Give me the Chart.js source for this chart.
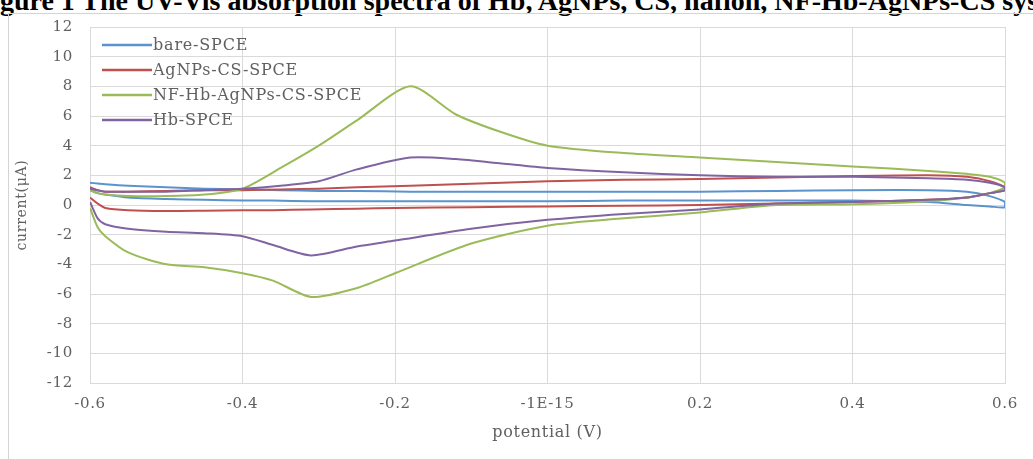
<!DOCTYPE html>
<html>
<head>
<meta charset="utf-8">
<script src="https://cdn.jsdelivr.net/npm/chart.js@4/dist/chart.umd.min.js"></script>
<style>
  html, body { margin: 0; padding: 0; background: #fff; }
  #wrap { position: relative; width: 1033px; height: 459px; overflow: hidden; background: #fff; }
  #caption {
    position: absolute; left: -25px; top: -13px; white-space: nowrap;
    font: bold 28px/28px "Liberation Serif", serif; color: #000;
  }
  #frame {
    position: absolute; left: 8px; top: 13px; width: 1100px; height: 500px;
    border-left: 1px solid #d4d4d4; border-top: 1px solid #d4d4d4;
  }
  #cv { position: absolute; left: 0; top: 0; }
</style>
</head>
<body>
<div id="wrap">
  <div id="caption">Figure 1 The UV-Vis absorption spectra of Hb, AgNPs, CS, nafion, NF-Hb-AgNPs-CS system</div>
  <div id="frame"></div>
  <canvas id="cv" width="1033" height="459"></canvas>
</div>
<script>
// potential sweeps (V): forward scan then reverse scan
const forwardV = [-0.6, -0.59, -0.58, -0.55, -0.5, -0.45, -0.4, -0.35, -0.3, -0.25, -0.18, -0.12, -0.06, 0, 0.1, 0.2, 0.3, 0.4, 0.5, 0.55, 0.58, 0.6];
const reverseV = [0.6, 0.58, 0.55, 0.5, 0.4, 0.3, 0.2, 0.1, 0, -0.1, -0.2, -0.25, -0.31, -0.36, -0.4, -0.45, -0.5, -0.55, -0.58, -0.59, -0.6];

// current (uA) on each sweep
const bareFwd = [1.5, 1.45, 1.4, 1.3, 1.2, 1.1, 1.05, 1.0, 0.95, 0.95, 0.9, 0.9, 0.9, 0.9, 0.9, 0.9, 0.95, 1.0, 1.0, 0.9, 0.6, 0.2];
const bareRev = [-0.15, -0.1, 0.0, 0.2, 0.3, 0.3, 0.3, 0.3, 0.25, 0.25, 0.25, 0.25, 0.25, 0.3, 0.3, 0.35, 0.4, 0.5, 0.7, 0.8, 1.0];
const agFwd = [1.2, 1.0, 0.9, 0.9, 0.95, 1.0, 1.0, 1.05, 1.1, 1.2, 1.3, 1.4, 1.5, 1.6, 1.7, 1.75, 1.85, 1.95, 2.0, 1.9, 1.6, 1.2];
const agRev = [1.0, 0.8, 0.5, 0.35, 0.2, 0.1, 0.0, -0.05, -0.1, -0.15, -0.2, -0.25, -0.3, -0.35, -0.35, -0.38, -0.4, -0.35, -0.2, 0.1, 0.5];
const nfFwd = [1.0, 0.8, 0.7, 0.6, 0.6, 0.7, 1.1, 2.5, 4.0, 5.7, 8.0, 6.1, 4.9, 4.0, 3.5, 3.2, 2.9, 2.6, 2.3, 2.1, 1.9, 1.5];
const nfRev = [1.2, 0.8, 0.5, 0.25, 0.05, 0.0, -0.5, -0.9, -1.4, -2.6, -4.6, -5.6, -6.2, -5.1, -4.6, -4.2, -4.0, -3.2, -2.1, -1.5, -0.2];
const hbFwd = [1.1, 1.0, 0.9, 0.9, 0.9, 1.0, 1.1, 1.3, 1.6, 2.4, 3.2, 3.1, 2.8, 2.5, 2.2, 2.0, 1.9, 1.9, 1.8, 1.7, 1.5, 1.2];
const hbRev = [1.0, 0.8, 0.5, 0.35, 0.2, 0.1, -0.3, -0.6, -1.0, -1.6, -2.4, -2.8, -3.4, -2.7, -2.1, -1.9, -1.8, -1.6, -1.3, -0.9, 0.2];

const seriesNames = ['bare-SPCE', 'AgNPs-CS-SPCE', 'NF-Hb-AgNPs-CS-SPCE', 'Hb-SPCE'];
const seriesColors = ['#5b93cd', '#c0504d', '#9bbb59', '#8064a2'];
const xTickLabels = ['-0.6', '-0.4', '-0.2', '-1E-15', '0.2', '0.4', '0.6'];

const textColor = '#606060';
const gridColor = '#dadada';
const serif = '"DejaVu Serif", serif';

function loop(fwd, rev) {
  const pts = forwardV.map((v, i) => ({ x: v, y: fwd[i] }));
  return pts.concat(reverseV.map((v, i) => ({ x: v, y: rev[i] })));
}

const curves = [loop(bareFwd, bareRev), loop(agFwd, agRev), loop(nfFwd, nfRev), loop(hbFwd, hbRev)];

// a little letter spacing on every label, the serif looks too tight otherwise
const spacing = {
  id: 'spacing',
  beforeLayout(chart) { chart.ctx.letterSpacing = '0.7px'; },
  beforeDraw(chart) { chart.ctx.letterSpacing = '0.7px'; }
};

// legend drawn inside the plot, top left
const innerLegend = {
  id: 'innerLegend',
  afterDatasetsDraw(chart) {
    const ctx = chart.ctx;
    const area = chart.chartArea;
    ctx.save();
    ctx.font = '16px ' + serif;
    ctx.letterSpacing = '0.8px';
    ctx.textBaseline = 'middle';
    chart.data.datasets.forEach((ds, i) => {
      const y = area.top + 18 + i * 25;
      const x = area.left + 12;
      ctx.strokeStyle = ds.borderColor;
      ctx.lineWidth = 2.5;
      ctx.beginPath();
      ctx.moveTo(x, y);
      ctx.lineTo(x + 50, y);
      ctx.stroke();
      ctx.fillStyle = textColor;
      ctx.fillText(ds.label, x + 51, y + 1);
    });
    ctx.restore();
  }
};

new Chart(document.getElementById('cv'), {
  type: 'scatter',
  data: {
    datasets: curves.map((pts, i) => ({
      label: seriesNames[i],
      data: pts,
      showLine: true,
      borderColor: seriesColors[i],
      backgroundColor: seriesColors[i],
      borderWidth: 2,
      pointRadius: 0,
      tension: 0.25,
      fill: false,
      order: 3 - i
    }))
  },
  options: {
    responsive: false,
    animation: false,
    layout: { padding: { left: 0, top: 27, right: 28, bottom: 0 } },
    plugins: {
      legend: { display: false },
      tooltip: { enabled: false }
    },
    scales: {
      x: {
        type: 'linear',
        min: -0.6,
        max: 0.6,
        afterFit: s => { s.height = 76; },
        grid: { color: gridColor, drawTicks: false },
        border: { color: gridColor },
        ticks: {
          stepSize: 0.2,
          padding: 12,
          color: textColor,
          font: { family: serif, size: 15 },
          maxRotation: 0,
          callback: (v, i) => xTickLabels[i]
        },
        title: {
          display: true,
          text: 'potential (V)',
          color: textColor,
          font: { family: serif, size: 16 },
          padding: { bottom: 17 }
        }
      },
      y: {
        min: -12,
        max: 12,
        afterFit: s => { s.width = 90; },
        grid: { color: gridColor, drawTicks: false },
        border: { color: gridColor },
        ticks: {
          stepSize: 2,
          padding: 17,
          color: textColor,
          font: { family: serif, size: 15 }
        },
        title: {
          display: true,
          text: 'current(μA)',
          color: textColor,
          font: { family: serif, size: 14 },
          padding: { top: 14 }
        }
      }
    }
  },
  plugins: [spacing, innerLegend]
});
</script>
</body>
</html>
